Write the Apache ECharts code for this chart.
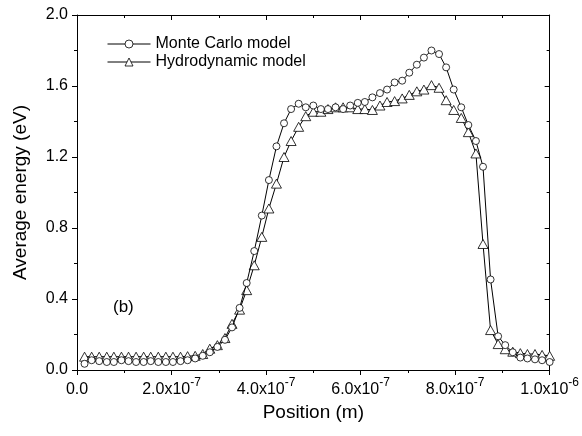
<!DOCTYPE html>
<html lang="en">
<head>
<meta charset="UTF-8">
<title>Average energy</title>
<script src="https://cdn.jsdelivr.net/npm/echarts@6/dist/echarts.min.js"></script>
<style>
	html,body{margin:0;padding:0;background:#fff;}
	#main{width:582px;height:436px;}
</style>
</head>
<body>
<div id="main"></div>
<script>
	// positions in nm (axis labels are written in metres)
	var positionNm = [16,31,47,63,78,94,109,125,141,156,172,188,203,219,234,250,
		266,281,297,313,328,344,359,375,391,406,422,438,453,469,484,500,
		516,531,547,563,578,594,609,625,641,656,672,688,703,719,734,750,
		766,781,797,813,828,844,859,875,891,906,922,938,953,969,984,1000];
	// Monte Carlo model (circles)
	var monteCarlo = [0.035,0.055,0.05,0.045,0.045,0.055,0.05,0.045,0.045,0.05,0.045,0.045,0.045,0.05,0.055,0.065,
		0.08,0.10,0.13,0.17,0.24,0.35,0.49,0.67,0.87,1.07,1.26,1.39,1.47,1.50,1.48,1.49,
		1.47,1.47,1.48,1.47,1.49,1.505,1.51,1.536,1.56,1.58,1.62,1.63,1.675,1.72,1.76,1.80,
		1.78,1.705,1.58,1.48,1.38,1.29,1.145,0.51,0.19,0.14,0.10,0.07,0.065,0.06,0.055,0.045];
	// Hydrodynamic model (triangles)
	var hydro = [0.075,0.075,0.075,0.075,0.075,0.075,0.075,0.075,0.075,0.075,0.075,0.075,0.075,0.075,0.078,0.08,
		0.09,0.12,0.14,0.18,0.26,0.34,0.45,0.59,0.75,0.91,1.05,1.20,1.29,1.37,1.43,1.455,
		1.455,1.47,1.48,1.48,1.48,1.47,1.47,1.465,1.49,1.51,1.515,1.53,1.55,1.57,1.58,1.605,
		1.59,1.52,1.465,1.42,1.34,1.22,0.71,0.225,0.146,0.117,0.103,0.095,0.09,0.09,0.085,0.08];
	var xTickMant = ['0.0','2.0x10','4.0x10','6.0x10','8.0x10','1.0x10'];
	var xTickExp = ['','-7','-7','-7','-7','-6'];

	var font = "'Liberation Sans', Arial, sans-serif";

	function pairs(xs, ys){
		var out = [];
		for(var i=0;i<xs.length;i++){
			out.push([xs[i], ys[i]]);
		}
		return out;
	}

	function xLabel(v){
		var i = Math.round(v/200);
		if(xTickExp[i]==''){
			return '{m|'+xTickMant[i]+'}';
		}
		return '{m|'+xTickMant[i]+'}{e|'+xTickExp[i]+'}';
	}

	var blk = {color:'#000', width:1};
	var myChart = echarts.init(document.getElementById('main'), null, {renderer:'canvas'});
	var option = {
		backgroundColor:'#fff',
		animation:false,
		textStyle:{fontFamily:font},
		grid:{left:77, right:27, top:15, bottom:66},
		legend:{
			orient:'vertical',
			left:102,
			top:31,
			itemWidth:43,
			itemHeight:10,
			itemGap:2,
			itemStyle:{color:'#fff', borderColor:'#000', borderWidth:0.8},
			lineStyle:{color:'#000', width:1},
			textStyle:{fontFamily:font, fontSize:16, color:'#000'},
			data:['Monte Carlo model','Hydrodynamic model']
		},
		xAxis:[
			{
				type:'value', min:0, max:1000, interval:200, position:'bottom',
				axisLine:{onZero:false, lineStyle:blk},
				axisTick:{length:5, lineStyle:blk},
				minorTick:{show:true, splitNumber:2, length:3, lineStyle:blk},
				splitLine:{show:false},
				axisLabel:{
					margin:7, showMinLabel:true, showMaxLabel:true,
					formatter:xLabel,
					rich:{
						m:{fontFamily:font, fontSize:16, color:'#000', lineHeight:21, verticalAlign:'bottom'},
						e:{fontFamily:font, fontSize:12, color:'#000', lineHeight:12, verticalAlign:'top'}
					}
				},
				name:'Position (m)', nameLocation:'middle', nameGap:33,
				nameTextStyle:{fontFamily:font, fontSize:19, color:'#000'}
			},
			{
				type:'value', min:0, max:1000, interval:200, position:'top',
				axisLine:{onZero:false, lineStyle:blk},
				axisTick:{inside:true, length:5, lineStyle:blk},
				minorTick:{show:true, splitNumber:2, length:3, lineStyle:blk},
				splitLine:{show:false},
				axisLabel:{show:false}
			}
		],
		yAxis:[
			{
				type:'value', min:0, max:2, interval:0.4, position:'left',
				axisLine:{onZero:false, lineStyle:blk},
				axisTick:{length:5, lineStyle:blk},
				minorTick:{show:true, splitNumber:2, length:3, lineStyle:blk},
				splitLine:{show:false},
				axisLabel:{
					margin:9, color:'#000', fontFamily:font, fontSize:16,
					formatter:function(v){ return v.toFixed(1); }
				},
				name:'Average energy (eV)', nameLocation:'middle', nameGap:47,
				nameTextStyle:{fontFamily:font, fontSize:19, color:'#000'}
			},
			{
				type:'value', min:0, max:2, interval:0.4, position:'right',
				axisLine:{onZero:false, lineStyle:blk},
				axisTick:{inside:true, length:5, lineStyle:blk},
				minorTick:{show:true, splitNumber:2, length:3, lineStyle:blk},
				splitLine:{show:false},
				axisLabel:{show:false}
			}
		],
		graphic:[
			{type:'text', left:113, top:299, style:{text:'(b)', fontFamily:font, fontSize:17, fill:'#000'}}
		],
		series:[
			{
				name:'Monte Carlo model',
				type:'line',
				xAxisIndex:0, yAxisIndex:0,
				data:pairs(positionNm, monteCarlo),
				symbol:'circle',
				symbolSize:7,
				showAllSymbol:true,
				lineStyle:{color:'#000', width:1},
				itemStyle:{color:'#fff', borderColor:'#000', borderWidth:0.8},
				z:3
			},
			{
				name:'Hydrodynamic model',
				type:'line',
				xAxisIndex:0, yAxisIndex:0,
				data:pairs(positionNm, hydro),
				symbol:'triangle',
				symbolSize:[10,9],
				showAllSymbol:true,
				lineStyle:{color:'#000', width:1},
				itemStyle:{color:'#fff', borderColor:'#000', borderWidth:0.8},
				z:2
			}
		]
	};
	myChart.setOption(option);
</script>
</body>
</html>
